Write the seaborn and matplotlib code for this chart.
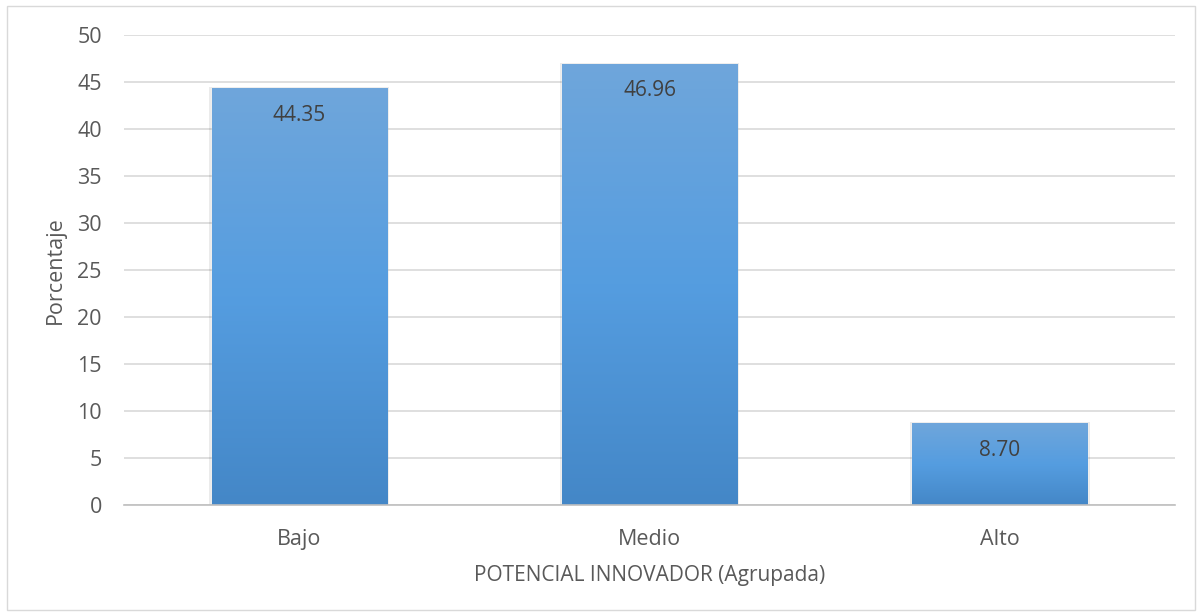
import numpy as np
import pandas as pd
import matplotlib
matplotlib.use("Agg")
import matplotlib.pyplot as plt
import seaborn as sns
from matplotlib.colors import LinearSegmentedColormap
from matplotlib.patches import Rectangle

categories = ["Bajo", "Medio", "Alto"]
values = [44.35, 46.96, 8.70]
labels = ["44.35", "46.96", "8.70"]
yticks = [0, 5, 10, 15, 20, 25, 30, 35, 40, 45, 50]

sns.set_theme(style="white")
plt.rcParams['font.family'] = ['Open Sans', 'DejaVu Sans']

df = pd.DataFrame({"cat": categories, "val": values})

fig = plt.figure(figsize=(12.01, 6.16), dpi=100)
ax = fig.add_axes([124/1201, 1-505/616, (1175-124)/1201, (505-35)/616])

sns.barplot(data=df, x="cat", y="val", ax=ax, color="#5B9BD5", width=0.5,
            saturation=1, zorder=3)

cmap = LinearSegmentedColormap.from_list("g", ["#4487C7", "#559DE0", "#6FA6DB"])
grad = np.linspace(0, 1, 256).reshape(-1, 1)
for p in ax.patches:
    x0, y0 = p.get_x(), p.get_y()
    w, h = p.get_width(), p.get_height()
    im = ax.imshow(grad, cmap=cmap, origin="lower", aspect="auto",
                   extent=[x0, x0 + w, y0, y0 + h], zorder=4)
    im.set_clip_path(p)
    sh = Rectangle((x0 - 0.006, y0), w + 0.012, h + 0.1, facecolor="#000000",
                   alpha=0.08, edgecolor="none", zorder=2.5)
    ax.add_patch(sh)

for i, (v, t) in enumerate(zip(values, labels)):
    ax.text(i, v - 2.9, t, ha="center", va="center", fontsize=15,
            color="#404040", zorder=5)

ax.set_xlim(-0.5, 2.5)
ax.set_ylim(0, 50)
ax.set_yticks(yticks)
ax.yaxis.grid(True, color="#D9D9D9", linewidth=1.2, zorder=0)
ax.set_axisbelow(True)
for s in ["top", "right", "left"]:
    ax.spines[s].set_visible(False)
ax.spines["bottom"].set_color("#BFBFBF")
ax.spines["bottom"].set_linewidth(1.2)
ax.spines["bottom"].set_zorder(6)
ax.tick_params(axis="both", length=0, labelsize=15.5, colors="#595959")
ax.tick_params(axis="y", pad=16)
ax.tick_params(axis="x", pad=17)
ax.set_ylabel("Porcentaje", fontsize=15.5, color="#595959", va="center")
ax.set_xlabel("POTENCIAL INNOVADOR (Agrupada)", fontsize=15, color="#595959", va="center")
ax.yaxis.set_label_coords((55-124)/1051, 0.5)
ax.xaxis.set_label_coords(0.5, (505-576)/470)

fig.patches.append(Rectangle((7/1201, 1-610/616), 1188/1201, 604/616,
                             transform=fig.transFigure, fill=False,
                             edgecolor="#D9D9D9", linewidth=1))

fig.savefig("out.png", dpi=100)
